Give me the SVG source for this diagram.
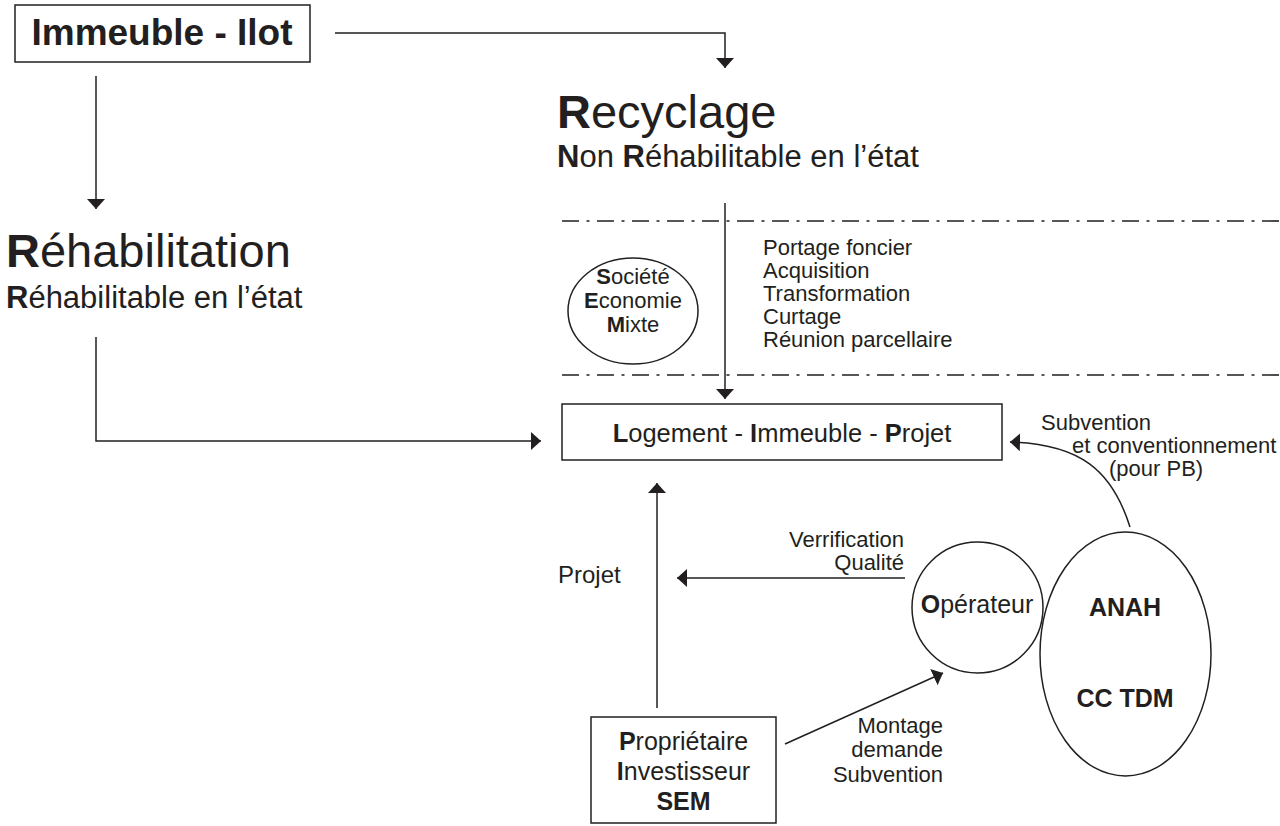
<svg xmlns="http://www.w3.org/2000/svg" width="1280" height="826" viewBox="0 0 1280 826">
<style>
text{font-family:"Liberation Sans",Arial,Helvetica,sans-serif;fill:#231f20}
.b{font-weight:bold}
.box{fill:none;stroke:#231f20;stroke-width:1.5}
.ln{fill:none;stroke:#231f20;stroke-width:1.5}
.dd{fill:none;stroke:#231f20;stroke-width:1.6;stroke-dasharray:17 7.5 3 7.5}
.h1{font-size:47px}
.h2{font-size:31px}
.m{font-size:25px}
.s{font-size:22px}
.sem{font-size:22px}
</style>
<defs>
<marker id="ah" markerUnits="userSpaceOnUse" markerWidth="12" markerHeight="20" refX="10" refY="9" orient="auto">
<path d="M0,0 L10,9 L0,18 z" fill="#231f20"/>
</marker>
</defs>
<rect width="1280" height="826" fill="#fff"/>

<g id="immeuble-ilot">
<rect class="box" x="15" y="5" width="295" height="57"/>
<text class="b" x="162" y="45" font-size="37" text-anchor="middle">Immeuble - Ilot</text>
</g>

<g id="recyclage">
<text class="h1" x="557" y="128"><tspan class="b">R</tspan>ecyclage</text>
<text class="h2" x="557" y="167"><tspan class="b">N</tspan>on <tspan class="b">R</tspan>éhabilitable en l’état</text>
</g>

<g id="rehabilitation">
<text class="h1" x="6" y="267"><tspan class="b">R</tspan>éhabilitation</text>
<text class="h2" x="6" y="308" font-size="32"><tspan class="b">R</tspan>éhabilitable en l’état</text>
</g>

<g id="bandes">
<line class="dd" x1="562" y1="221" x2="1280" y2="221"/>
<line class="dd" x1="562" y1="375" x2="1280" y2="375"/>
</g>

<g id="sem">
<ellipse class="box" cx="633" cy="311" rx="65" ry="53"/>
<text class="sem" x="633" y="284" text-anchor="middle"><tspan class="b">S</tspan>ociété</text>
<text class="sem" x="633" y="308" text-anchor="middle"><tspan class="b">E</tspan>conomie</text>
<text class="sem" x="633" y="332" text-anchor="middle"><tspan class="b">M</tspan>ixte</text>
</g>

<g id="actions">
<text class="s" x="763" y="255">Portage foncier</text>
<text class="s" x="763" y="278">Acquisition</text>
<text class="s" x="763" y="301">Transformation</text>
<text class="s" x="763" y="324">Curtage</text>
<text class="s" x="763" y="347">Réunion parcellaire</text>
</g>

<g id="logement">
<rect class="box" x="562" y="404" width="440" height="56"/>
<text x="782" y="442" font-size="25.5" text-anchor="middle"><tspan class="b">L</tspan>ogement - <tspan class="b">I</tspan>mmeuble - <tspan class="b">P</tspan>rojet</text>
</g>

<g id="operateur">
<circle class="box" cx="977.5" cy="607.5" r="65.5"/>
<text class="m" x="977" y="613" text-anchor="middle"><tspan class="b">O</tspan>pérateur</text>
</g>

<g id="anah">
<ellipse class="box" cx="1125.5" cy="654" rx="85.5" ry="122"/>
<text class="m b" x="1125" y="616" text-anchor="middle">ANAH</text>
<text class="m b" x="1125" y="707" text-anchor="middle">CC TDM</text>
</g>

<g id="proprietaire">
<rect class="box" x="591" y="717" width="185" height="106"/>
<text class="m" x="683.5" y="750" text-anchor="middle"><tspan class="b">P</tspan>ropriétaire</text>
<text class="m" x="683.5" y="780" text-anchor="middle"><tspan class="b">I</tspan>nvestisseur</text>
<text class="m b" x="683.5" y="810" text-anchor="middle">SEM</text>
</g>

<g id="connectors">
<polyline class="ln" points="335,33 725,33 725,68" marker-end="url(#ah)"/>
<line class="ln" x1="96" y1="76" x2="96" y2="209" marker-end="url(#ah)"/>
<line class="ln" x1="725" y1="203" x2="725" y2="399" marker-end="url(#ah)"/>
<polyline class="ln" points="96,337 96,441 541,441" marker-end="url(#ah)"/>
<line class="ln" x1="657" y1="708" x2="657" y2="483" marker-end="url(#ah)"/>
<line class="ln" x1="905" y1="578" x2="677" y2="578" marker-end="url(#ah)"/>
<line class="ln" x1="785" y1="744" x2="943" y2="673" marker-end="url(#ah)"/>
<path class="ln" d="M1130,527 C1112,470 1080,444 1010,442" marker-end="url(#ah)"/>
</g>

<g id="labels">
<text x="558" y="583" font-size="24">Projet</text>
<text class="s" x="904" y="547" text-anchor="end">Verrification</text>
<text class="s" x="904" y="570" text-anchor="end">Qualité</text>
<text class="s" x="943" y="733" text-anchor="end">Montage</text>
<text class="s" x="943" y="757" text-anchor="end">demande</text>
<text class="s" x="943" y="782" text-anchor="end">Subvention</text>
<text class="s" x="1041" y="430">Subvention</text>
<text class="s" x="1072" y="453">et conventionnement</text>
<text class="s" x="1109" y="476">(pour PB)</text>
</g>
</svg>
